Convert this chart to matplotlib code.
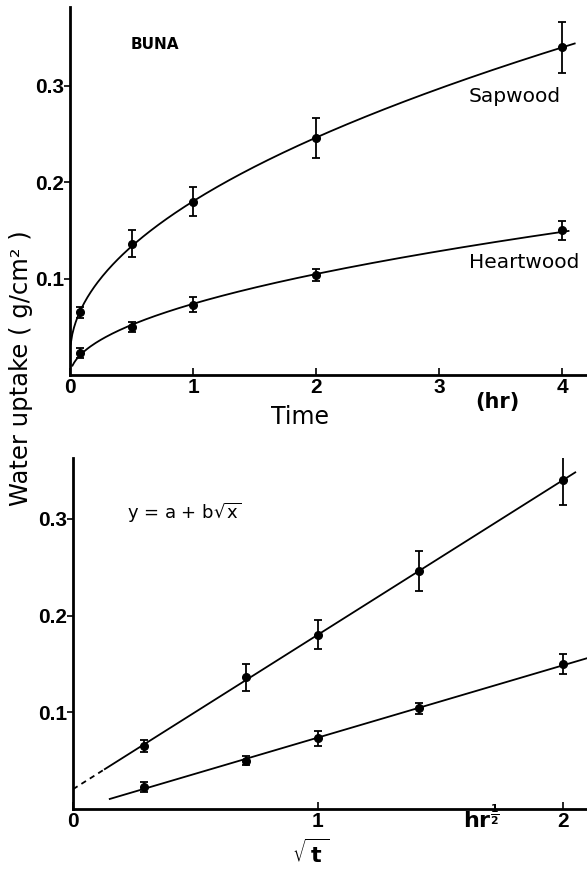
import matplotlib.pyplot as plt
import numpy as np

plt.rcParams['mathtext.fontset'] = 'dejavusans'

# Water uptake of beech (BUNA), sapwood vs heartwood
time_hr = [0.083, 0.5, 1.0, 2.0, 4.0]
sapwood = [0.065, 0.136, 0.180, 0.246, 0.340]
sapwood_err = [0.006, 0.014, 0.015, 0.021, 0.026]
heartwood = [0.023, 0.050, 0.073, 0.104, 0.150]
heartwood_err = [0.005, 0.005, 0.008, 0.006, 0.010]

x_ticks_top = [0, 1, 2, 3, 4]
x_ticks_bot = [0, 1, 2]
y_ticks = [0.1, 0.2, 0.3]
y_ticklabels = ['0.1', '0.2', '0.3']

W, H = 587, 872


def fx(px):
    return px / W


def fy(py):
    return 1 - py / H


# y = a + b*sqrt(t) fits
sq = np.sqrt(time_hr)
b_sap, a_sap = np.polyfit(sq, sapwood, 1)
b_hw, a_hw = np.polyfit(sq, heartwood, 1)

fig = plt.figure(figsize=(W / 100, H / 100), dpi=100)
ax1 = fig.add_axes([fx(70), fy(375), fx(587 - 70), (375 - 7) / H])
ax2 = fig.add_axes([fx(73), fy(809), fx(587 - 73), (809 - 458) / H])

tick_font = dict(family='Liberation Sans', weight='bold', size=15)


def style_axes(ax, xticks):
    for s in ['top', 'right']:
        ax.spines[s].set_visible(False)
    for s in ['left', 'bottom']:
        ax.spines[s].set_linewidth(2)
    ax.tick_params(axis='x', direction='in', length=5, width=1.2, pad=2.5)
    ax.tick_params(axis='y', direction='out', length=4, width=1.2, pad=0)
    ax.set_xticks(xticks)
    ax.set_xticklabels([str(v) for v in xticks], fontdict=tick_font)
    ax.set_yticks(y_ticks)
    ax.set_yticklabels(y_ticklabels, fontdict=tick_font)


# ---- top panel: uptake vs time
t_sap = np.linspace(0.005, 4.1, 300)
t_hw = np.linspace(0.02, 4.05, 300)
ax1.plot(t_sap, a_sap + b_sap * np.sqrt(t_sap), color='black', lw=1.3)
ax1.plot(t_hw, a_hw + b_hw * np.sqrt(t_hw), color='black', lw=1.3)
ax1.errorbar(time_hr, sapwood, yerr=sapwood_err, fmt='o', ms=5.5, color='black',
             capsize=3, elinewidth=1.3, capthick=1.3)
ax1.errorbar(time_hr, heartwood, yerr=heartwood_err, fmt='o', ms=5.5, color='black',
             capsize=3, elinewidth=1.3, capthick=1.3)
ax1.set_xlim(0, 4.2)
ax1.set_ylim(0, 0.382)
style_axes(ax1, x_ticks_top)

ax1.text(0.49, 0.343, 'BUNA', fontsize=11, fontweight='bold', va='center')
ax1.text(3.24, 0.289, 'Sapwood', fontsize=14.5, va='center')
ax1.text(3.24, 0.117, 'Heartwood', fontsize=14.5, va='center')

# ---- bottom panel: uptake vs sqrt(t)
s_dash = np.linspace(0, 0.13, 20)
s_sap = np.linspace(0.13, 2.05, 200)
s_hw = np.linspace(0.15, 2.1, 200)
ax2.plot(s_dash, a_sap + b_sap * s_dash, color='black', lw=1.3, ls=(0, (3, 2.5)))
ax2.plot(s_sap, a_sap + b_sap * s_sap, color='black', lw=1.3)
ax2.plot(s_hw, a_hw + b_hw * s_hw, color='black', lw=1.3)
ax2.errorbar(sq, sapwood, yerr=sapwood_err, fmt='o', ms=5.5, color='black',
             capsize=3, elinewidth=1.3, capthick=1.3)
ax2.errorbar(sq, heartwood, yerr=heartwood_err, fmt='o', ms=5.5, color='black',
             capsize=3, elinewidth=1.3, capthick=1.3)
ax2.set_xlim(0, 2.098)
ax2.set_ylim(0, 0.363)
style_axes(ax2, x_ticks_bot)

ax2.text(0.22, 0.306, r'y = a + b$\sqrt{\mathrm{x}}$', fontsize=13, va='center')

# ---- axis titles
fig.text(fx(21), fy(368), 'Water uptake ( g/cm² )', rotation=90, fontsize=17.5,
         ha='center', va='center')
fig.text(fx(300), fy(417), 'Time', fontsize=17, ha='center', va='center')
fig.text(fx(497), fy(402), '(hr)', fontsize=15, fontweight='bold', ha='center', va='center')
fig.text(fx(463), fy(828), r'$\mathbf{hr}^{\mathbf{\frac{1}{2}}}$', fontsize=16,
         ha='left', va='baseline')
fig.text(fx(311), fy(853), r'$\sqrt{\,\mathbf{t}\,}$', fontsize=16, ha='center', va='center')

fig.savefig('out.png', dpi=100)
plt.close(fig)
